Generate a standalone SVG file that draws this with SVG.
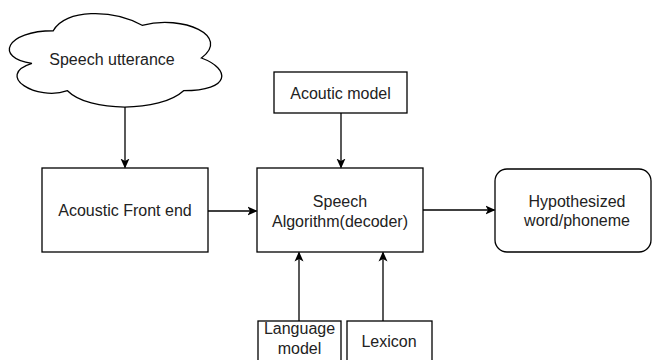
<svg xmlns="http://www.w3.org/2000/svg" width="652" height="360" viewBox="0 0 652 360">
  <style>
    .box { fill: #ffffff; stroke: #000000; stroke-width: 1.3; }
    .lbl { font-family: "Liberation Sans", Arial, sans-serif; font-size: 16px; fill: #222222; text-anchor: middle; }
    .edge { fill: none; stroke: #000000; stroke-width: 1.3; }
  </style>
  <defs>
    <marker id="arrow" viewBox="0 0 10 10" refX="9" refY="5" markerWidth="10" markerHeight="10" markerUnits="userSpaceOnUse" orient="auto">
      <path d="M0,0.5 L10,5 L0,9.5 L2.5,5 Z" fill="#000000"/>
    </marker>
  </defs>
  <rect x="0" y="0" width="652" height="360" fill="#ffffff"/>

  <g id="speech-utterance">
    <path class="box" d="M53.25,30.75 C5.85,30.75 -6,58 31.92,63.45 C-6,75.44 36.66,101.6 67.47,90.7 C88.8,112.5 159.9,112.5 183.6,90.7 C231,90.7 231,68.9 201.4,58 C231,36.2 183.6,14.4 142.1,25.3 C112.5,8.95 65.1,8.95 53.25,30.75 Z"/>
    <text class="lbl" x="112" y="65">Speech utterance</text>
  </g>

  <g id="acoustic-front-end">
    <rect class="box" x="42" y="168" width="166" height="84"/>
    <text class="lbl" x="125" y="216">Acoustic Front end</text>
  </g>

  <g id="acoutic-model">
    <rect class="box" x="274" y="72" width="133" height="41"/>
    <text class="lbl" x="340.5" y="98.5">Acoutic model</text>
  </g>

  <g id="speech-algorithm">
    <rect class="box" x="257" y="168" width="166" height="84"/>
    <text class="lbl" x="340" y="207">Speech</text>
    <text class="lbl" x="340" y="226.5">Algorithm(decoder)</text>
  </g>

  <g id="hypothesized">
    <rect class="box" x="495" y="169" width="156" height="83" rx="12" ry="12"/>
    <text class="lbl" x="577" y="206.5">Hypothesized</text>
    <text class="lbl" x="577" y="225.5">word/phoneme</text>
  </g>

  <g id="language-model">
    <rect class="box" x="258" y="321" width="83" height="50"/>
    <text class="lbl" x="299.5" y="334">Language</text>
    <text class="lbl" x="299.5" y="354">model</text>
  </g>

  <g id="lexicon">
    <rect class="box" x="347" y="321" width="85" height="50"/>
    <text class="lbl" x="389" y="347">Lexicon</text>
  </g>

  <g id="connectors">
    <line class="edge" x1="125" y1="107" x2="125" y2="167.5" marker-end="url(#arrow)"/>
    <line class="edge" x1="341" y1="113" x2="341" y2="167.5" marker-end="url(#arrow)"/>
    <line class="edge" x1="208" y1="211" x2="256.5" y2="211" marker-end="url(#arrow)"/>
    <line class="edge" x1="423" y1="210" x2="494.5" y2="210" marker-end="url(#arrow)"/>
    <line class="edge" x1="299" y1="321" x2="299" y2="252.5" marker-end="url(#arrow)"/>
    <line class="edge" x1="383" y1="321" x2="383" y2="252.5" marker-end="url(#arrow)"/>
  </g>
</svg>
